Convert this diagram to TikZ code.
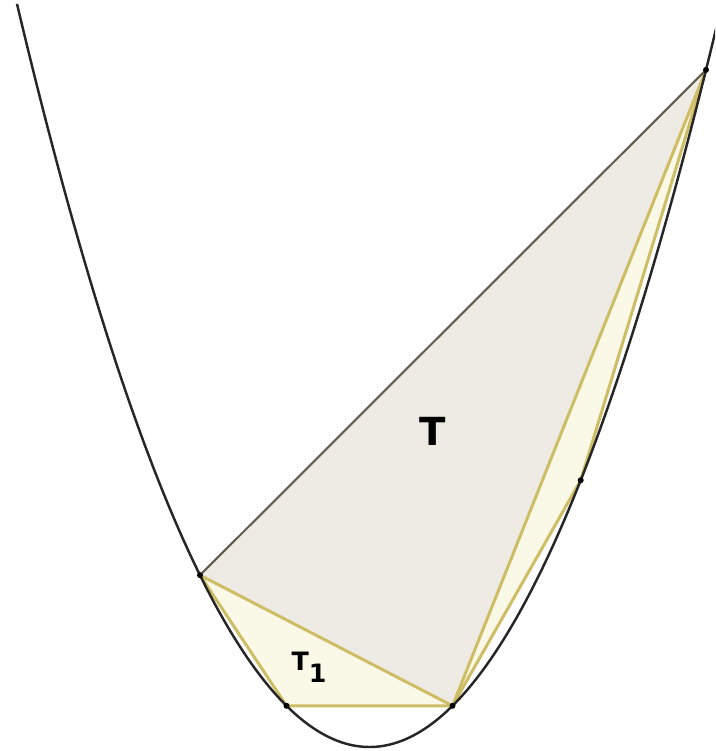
\documentclass[tikz,border=0pt]{standalone}
\usepackage{fontspec}
\newfontfamily\labelfont{DejaVu Sans}
\definecolor{fillT}{HTML}{EDEBE3}
\definecolor{fillS}{HTML}{FAF8E6}
\definecolor{chordY}{HTML}{CFBD66}
\definecolor{chordG}{HTML}{5E5D50}
\newcommand{\parY}[1]{0.04+0.598*((#1)-3.695)*((#1)-3.695)}
\tikzset{
  curve/.style={line width=0.7pt, black!85},
  ychord/.style={line width=0.85pt, chordY, line join=round},
  gchord/.style={line width=0.6pt, chordG},
  pt/.style={fill=black}
}
\begin{document}
\begin{tikzpicture}[every node/.style={font=\labelfont\bfseries}]
  \useasboundingbox (0,0) rectangle (7.15,7.51);
  \clip (0,0) rectangle (7.15,7.51);

  % points on the parabola
  \coordinate (A) at (2.00,{\parY{2.00}});
  \coordinate (D) at (2.865,{\parY{2.865}});
  \coordinate (B) at (4.525,{\parY{4.525}});
  \coordinate (E) at (5.807,{\parY{5.807}});
  \coordinate (C) at (7.06,{\parY{7.06}});

  \fill[fillT] (A) -- (B) -- (C) -- cycle;
  \fill[fillS] (A) -- (D) -- (B) -- cycle;
  \fill[fillS] (B) -- (E) -- (C) -- cycle;

  \draw[ychord] (A) -- (B);
  \draw[ychord] (B) -- (C);
  \draw[ychord] (A) -- (D);
  \draw[ychord] (D) -- (B);
  \draw[ychord] (B) -- (E);
  \draw[ychord] (E) -- (C);
  \draw[gchord] (A) -- (C);

  \draw[curve] plot[domain=0.17:7.3, samples=150, smooth] (\x,{\parY{\x}});

  \foreach \p in {A,B,C,D,E}
    \fill[pt] (\p) circle (0.03);

  \node (labT) at (4.33,3.20) {\fontsize{11}{13}\selectfont T};
  \node (labT1) at (3.09,0.84) {\fontsize{7.2}{9}\selectfont T\raisebox{-3.4pt}{1}};
\end{tikzpicture}
\end{document}
